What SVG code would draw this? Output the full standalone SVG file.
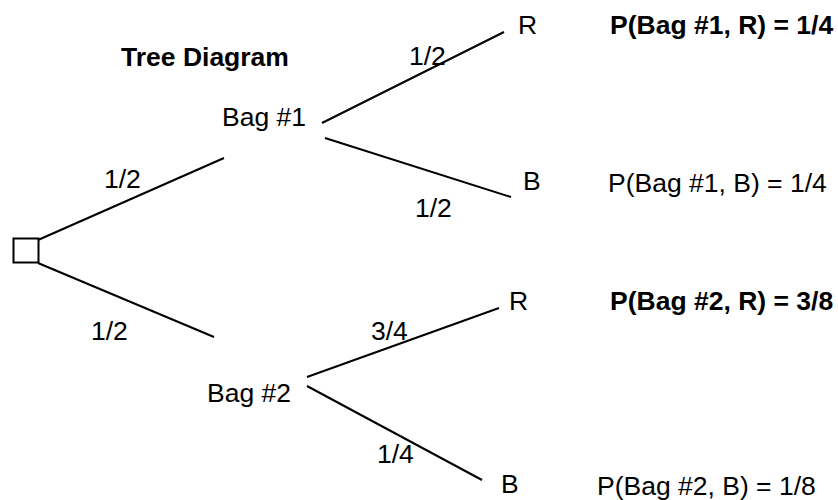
<svg xmlns="http://www.w3.org/2000/svg" width="838" height="500" viewBox="0 0 838 500">
<style>
text{font-family:"Liberation Sans",Arial,sans-serif;font-size:26.5px;fill:#000}
.b{font-weight:bold}
.e{stroke:#000;stroke-width:2;fill:none}
</style>
<rect width="838" height="500" fill="#fff"/>
<text class="b" x="121" y="66">Tree Diagram</text>
<g id="connectors">
<line class="e" x1="38" y1="240" x2="224" y2="158"/>
<line class="e" x1="38" y1="263" x2="214" y2="337"/>
<line class="e" x1="322" y1="123" x2="504" y2="32"/>
<line class="e" x1="325" y1="138" x2="511" y2="197"/>
<line class="e" x1="307" y1="377" x2="499" y2="308"/>
<line class="e" x1="307" y1="386" x2="482" y2="480"/>
<text x="104" y="188">1/2</text>
<text x="91" y="340">1/2</text>
<text x="409" y="65">1/2</text>
<text x="415" y="217">1/2</text>
<text x="371" y="340">3/4</text>
<text x="377" y="463">1/4</text>
</g>
<g id="root"><rect class="e" x="13.5" y="238.5" width="25" height="24"/></g>
<g id="bag1"><text x="222" y="126">Bag #1</text></g>
<g id="bag2"><text x="207" y="402">Bag #2</text></g>
<g id="r1"><text x="518" y="34">R</text><text class="b" x="610" y="34">P(Bag #1, R) = 1/4</text></g>
<g id="b1"><text x="523" y="190">B</text><text x="608" y="192">P(Bag #1, B) = 1/4</text></g>
<g id="r2"><text x="509" y="310">R</text><text class="b" x="610" y="310">P(Bag #2, R) = 3/8</text></g>
<g id="b2"><text x="501" y="493">B</text><text x="597" y="495">P(Bag #2, B) = 1/8</text></g>
</svg>
